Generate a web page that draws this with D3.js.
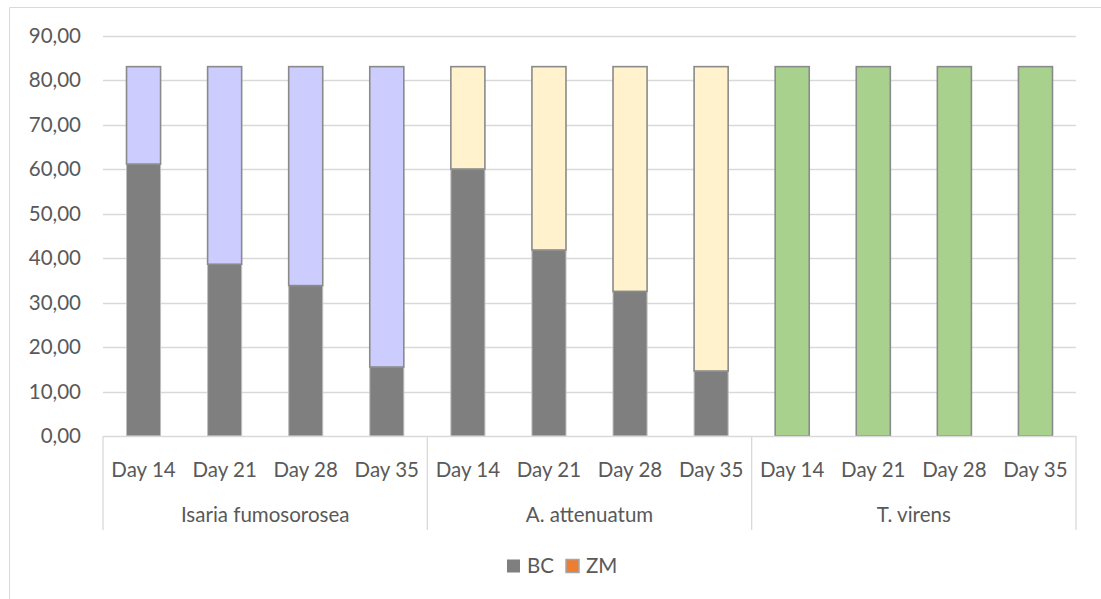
<!DOCTYPE html>
<html>
<head>
<meta charset="utf-8">
<script src="https://cdn.jsdelivr.net/npm/d3@7"></script>
<style>
  html, body { margin: 0; padding: 0; background: #fff; }
  svg { display: block; }
  text { font-family: Lato, "Open Sans", "Liberation Sans", sans-serif; fill: #595959; }
</style>
</head>
<body>
<svg id="chart" width="1101" height="599"></svg>
<script>
// ---- data ----
const groups = ["Isaria fumosorosea", "A. attenuatum", "T. virens"];
const days = ["Day 14", "Day 21", "Day 28", "Day 35"];
const bcValues = [61.1, 38.6, 33.8, 15.5, 60.0, 41.8, 32.5, 14.6, 0, 0, 0, 0];
const zmValues = [21.9, 44.4, 49.2, 67.5, 23.0, 41.2, 50.5, 68.4, 83.0, 83.0, 83.0, 83.0];
const groupFills = ["#CCCCFF", "#FFF2CC", "#A9D18E"];
const yTicks = [0, 10, 20, 30, 40, 50, 60, 70, 80, 90];
const seriesNames = ["BC", "ZM"];
const seriesColors = ["#7F7F7F", "#ED7D31"];

(function () {
// ---- build table ----
const rows = [];
groups.forEach((g, gi) => days.forEach((d, di) => {
  const i = gi * days.length + di;
  rows.push({ key: g + "|" + d, group: g, gi, day: d, BC: bcValues[i], ZM: zmValues[i] });
}));

const svg = d3.select("#chart");
const mLeft = 103, mRight = 1076, mTop = 35.5, mBottom = 436;
const fs = "20.5px";

const x = d3.scaleBand().domain(rows.map(r => r.key)).range([mLeft, mRight]).paddingInner(0.58).paddingOuter(0.29);
const y = d3.scaleLinear().domain([0, 90]).range([mBottom, mTop]);

// chart area border (partially visible)
svg.append("path").attr("d", `M9.5,599 V7.5 H1101`).attr("fill", "none").attr("stroke", "#D9D9D9").attr("stroke-width", 1);

// gridlines
svg.append("g").selectAll("line").data(yTicks.filter(t => t > 0)).join("line")
  .attr("x1", mLeft).attr("x2", mRight)
  .attr("y1", d => Math.round(y(d)) + 0.5).attr("y2", d => Math.round(y(d)) + 0.5)
  .attr("stroke", "#D9D9D9").attr("stroke-width", 1.3);

// y axis labels
const fmt = v => d3.format(".2f")(v).replace(".", ",");
const yAxis = d3.axisLeft(y).tickValues(yTicks).tickFormat(fmt).tickSize(0).tickPadding(22);
const gy = svg.append("g").attr("transform", `translate(${mLeft},0)`).call(yAxis);
gy.select(".domain").remove();
gy.attr("font-family", null).attr("font-size", null);
gy.selectAll("text").style("font-size", fs).attr("fill", "#595959");

// stacked bars
const stack = d3.stack().keys(seriesNames)(rows);
// BC
svg.append("g").selectAll("rect").data(stack[0]).join("rect")
  .attr("x", d => x(d.data.key)).attr("width", x.bandwidth())
  .attr("y", d => y(d[1])).attr("height", d => y(d[0]) - y(d[1]))
  .attr("fill", seriesColors[0]).attr("stroke", "#BFBFBF").attr("stroke-width", 1)
  .style("display", d => d[1] - d[0] > 0 ? null : "none");
// ZM (coloured by group)
svg.append("g").selectAll("rect").data(stack[1]).join("rect")
  .attr("x", d => x(d.data.key)).attr("width", x.bandwidth())
  .attr("y", d => y(d[1])).attr("height", d => y(d[0]) - y(d[1]))
  .attr("fill", d => groupFills[d.data.gi]).attr("stroke", "#8A8A8A").attr("stroke-width", 1.6);

// category axis baseline
svg.append("line").attr("x1", mLeft).attr("x2", mRight).attr("y1", mBottom + 0.5).attr("y2", mBottom + 0.5)
  .attr("stroke", "#D9D9D9").attr("stroke-width", 1.3);

// group separators
const groupEdges = d3.range(groups.length + 1).map(i => mLeft + (mRight - mLeft) * i / groups.length);
svg.append("g").selectAll("line").data(groupEdges).join("line")
  .attr("x1", d => d).attr("x2", d => d).attr("y1", mBottom).attr("y2", 530)
  .attr("stroke", "#D9D9D9").attr("stroke-width", 1.3);

// day labels
svg.append("g").selectAll("text").data(rows).join("text")
  .attr("x", d => x(d.key) + x.bandwidth() / 2).attr("y", 476.5)
  .attr("text-anchor", "middle").style("font-size", fs).text(d => d.day);

// group labels
svg.append("g").selectAll("text").data(groups).join("text")
  .attr("x", (d, i) => (groupEdges[i] + groupEdges[i + 1]) / 2).attr("y", 522)
  .attr("text-anchor", "middle").style("font-size", fs).text(d => d);

// legend
const legend = svg.append("g");
const legendX = [507, 566];
seriesNames.forEach((s, i) => {
  legend.append("rect").attr("x", legendX[i]).attr("y", 559.5).attr("width", 13).attr("height", 13)
    .attr("fill", seriesColors[i]).attr("stroke", i === 1 ? "#A6A6A6" : "none").attr("stroke-width", 1.5);
  legend.append("text").attr("x", legendX[i] + 20).attr("y", 572.5).style("font-size", fs).text(s);
});
})();
</script>
</body>
</html>
